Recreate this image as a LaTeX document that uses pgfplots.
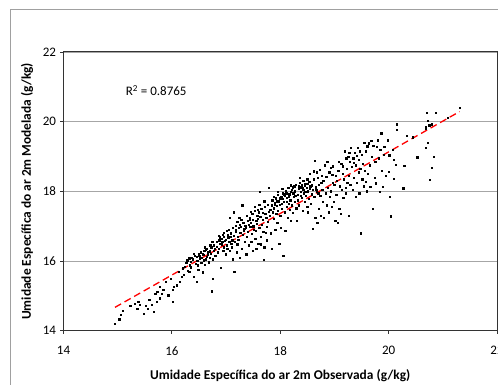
\documentclass[border=0pt]{standalone}
\usepackage{pgfplots}
\pgfplotsset{compat=1.18}
\usepackage{pgfplotstable}
\usepackage{fontspec}
\setmainfont{Carlito}
\definecolor{axgray}{HTML}{333333}
\definecolor{gridgray}{HTML}{A6A6A6}
\definecolor{framegray}{HTML}{A0A0A0}

\pgfplotstableread{
x y
14.95 14.21
15.03 14.33
15.06 14.45
15.09 14.57
15.23 14.71
15.32 14.77
15.36 14.64
15.38 14.83
15.41 14.74
15.48 14.48
15.52 14.71
15.55 14.64
15.58 14.88
15.63 14.74
15.66 14.55
15.69 15.07
15.72 14.83
15.73 15.12
15.77 15.26
15.78 14.93
15.81 15.07
15.84 15.17
15.89 15.41
15.93 15.02
15.98 15.50
16.01 15.17
16.01 14.83
16.04 15.26
16.09 15.31
16.12 15.69
16.15 15.41
16.18 15.55
16.20 15.79
16.22 15.60
16.24 15.84
16.262 15.95
16.297 15.72
16.281 16.02
16.334 15.88
16.318 15.70
16.372 16.10
16.349 15.98
16.401 15.55
16.386 16.05
16.437 15.92
16.415 16.15
16.468 16.00
16.452 15.40
16.491 16.20
16.476 15.88
16.517 16.08
16.503 16.15
16.539 15.95
16.526 16.25
16.571 15.68
16.548 16.10
16.589 16.02
16.563 16.22
16.612 15.90
16.594 16.30
16.638 16.12
16.621 16.05
16.659 16.25
16.646 16.35
16.684 15.97
16.667 16.18
16.703 16.28
16.692 16.10
16.728 16.40
16.711 16.22
16.749 16.05
16.735 15.13
16.757 15.50
16.778 16.30
16.769 16.45
16.802 16.15
16.788 16.35
16.322 16.08
16.455 16.12
16.580 16.18
16.627 16.32
16.705 16.45
16.352 15.82
16.488 15.75
16.612 16.40
16.745 16.55
16.399 16.22
16.823 16.55
16.846 16.25
16.831 16.42
16.872 16.60
16.858 16.35
16.894 16.50
16.903 15.80
16.917 16.48
16.908 16.65
16.946 16.30
16.929 16.55
16.961 16.40
16.952 16.70
16.987 16.20
16.973 16.58
17.012 16.45
16.998 16.62
17.034 16.75
17.019 16.35
17.057 16.55
17.041 16.68
17.072 16.30
17.066 17.25
17.095 16.50
17.083 16.80
17.114 16.60
17.102 16.40
17.138 16.72
17.121 16.05
17.143 17.40
17.152 15.70
17.176 16.85
17.161 16.55
17.194 16.25
17.183 16.90
17.219 16.70
17.205 16.48
17.238 16.95
17.226 16.62
17.247 16.10
17.263 16.82
17.252 17.05
17.287 16.35
17.271 16.98
17.309 16.75
17.296 17.60
17.328 16.88
17.315 17.10
17.347 16.55
17.336 16.92
17.352 17.02
16.885 16.68
16.962 16.82
17.048 16.90
17.127 16.95
17.205 17.12
17.281 17.18
17.016 16.88
16.934 16.75
17.172 17.02
17.244 17.25
17.090 16.70
16.865 16.72
17.371 16.20
17.362 16.95
17.394 17.15
17.383 16.70
17.412 17.05
17.398 16.85
17.436 17.25
17.421 16.45
17.448 16.98
17.441 17.20
17.473 16.78
17.458 17.10
17.491 16.30
17.482 17.35
17.513 16.90
17.502 17.00
17.527 17.45
17.536 16.65
17.558 17.15
17.541 16.88
17.577 17.30
17.566 17.08
17.594 16.50
17.583 17.22
17.612 16.95
17.603 17.40
17.618 17.98
17.641 16.70
17.629 17.28
17.662 17.05
17.648 17.50
17.683 16.85
17.671 17.18
17.702 16.40
17.694 16.03
17.725 17.35
17.713 17.55
17.747 16.98
17.738 17.25
17.764 17.62
17.756 16.60
17.785 17.42
17.772 17.12
17.791 18.10
17.808 17.30
17.452 17.42
17.533 17.55
17.612 17.62
17.705 17.72
17.378 17.30
17.465 16.55
17.556 16.35
17.645 16.48
17.728 16.82
17.498 17.18
17.588 17.48
17.676 17.38
17.826 16.80
17.815 17.48
17.847 17.60
17.839 16.35
17.865 17.40
17.852 17.75
17.884 17.22
17.873 17.52
17.905 16.90
17.892 17.68
17.924 17.35
17.913 17.80
17.946 17.10
17.931 17.58
17.958 17.45
17.952 17.90
17.979 16.50
17.967 17.72
17.998 17.30
17.985 17.62
18.018 17.85
18.004 16.95
18.036 17.78
18.027 17.50
18.053 16.15
18.041 17.95
18.076 17.40
18.062 17.70
18.091 16.88
18.083 17.88
18.115 17.55
18.104 18.02
18.138 17.25
18.122 17.82
18.157 17.65
18.146 18.10
18.174 17.48
18.163 17.92
18.196 17.15
18.182 17.75
18.213 18.05
18.205 17.60
18.237 17.95
18.224 17.38
18.256 18.15
18.243 17.85
18.271 17.70
18.265 18.00
18.293 17.52
18.284 18.20
17.876 17.85
17.957 17.98
18.035 18.08
18.118 17.70
18.196 17.98
18.278 17.88
17.903 17.62
17.992 17.80
18.071 17.92
18.152 17.85
18.233 18.12
17.945 17.72
18.024 17.65
18.108 17.95
18.187 18.18
18.318 17.90
18.309 17.15
18.336 18.08
18.327 17.75
18.356 18.25
18.344 17.60
18.378 17.98
18.362 18.40
18.394 17.82
18.386 18.12
18.413 17.45
18.402 18.20
18.437 17.95
18.425 18.05
18.452 17.70
18.446 18.18
18.473 17.88
18.461 18.22
18.495 17.55
18.484 18.10
18.512 18.00
18.506 17.40
18.534 18.28
18.521 17.78
18.553 18.15
18.547 18.50
18.575 17.92
18.562 17.65
18.594 18.05
18.603 16.92
18.613 18.35
18.627 17.85
18.631 18.88
18.646 17.25
18.654 18.12
18.668 18.55
18.677 17.98
18.683 17.10
18.694 18.40
18.706 18.20
18.712 17.50
18.724 18.62
18.735 17.88
18.742 17.30
18.756 18.25
18.761 18.45
18.774 18.05
18.786 17.70
18.792 18.30
18.805 17.25
18.345 18.15
18.425 18.30
18.505 18.22
18.585 18.18
18.665 18.05
18.372 17.88
18.458 17.98
18.538 18.08
18.618 18.58
18.702 17.95
18.498 18.35
18.412 18.10
18.824 18.75
18.833 17.95
18.847 18.42
18.851 17.60
18.866 18.85
18.878 18.10
18.894 17.40
18.902 18.55
18.908 17.85
18.925 18.68
18.936 18.00
18.947 17.55
18.968 18.25
18.973 18.72
18.985 17.70
18.998 18.20
19.014 17.15
19.022 18.45
19.033 17.90
19.047 18.30
19.066 17.10
19.071 18.60
19.088 17.50
19.096 18.15
19.113 17.35
19.124 18.80
19.132 18.05
19.148 18.50
19.163 17.82
19.176 18.35
19.188 19.15
19.205 18.10
19.212 17.95
19.224 18.65
19.238 18.25
19.252 19.00
19.264 17.30
19.268 18.45
19.285 18.85
19.291 18.20
19.303 19.25
19.318 18.70
19.334 18.05
19.346 18.95
19.358 18.40
19.377 19.10
19.392 17.85
19.398 18.75
19.414 18.25
19.425 19.25
19.442 18.55
19.453 18.90
19.458 17.95
19.476 18.65
19.491 16.80
19.502 19.05
19.513 18.35
19.526 18.80
19.534 18.15
19.548 19.40
19.563 18.60
19.572 19.15
19.583 18.28
19.594 18.00
19.606 19.30
19.618 18.50
19.632 19.38
19.648 18.75
19.662 18.13
19.677 19.45
19.688 19.00
19.708 17.51
19.716 19.32
19.738 18.40
19.752 18.85
19.767 18.23
19.784 19.28
19.796 19.47
19.818 18.95
19.832 17.99
19.846 19.20
19.862 19.67
19.878 18.60
19.891 18.13
19.904 19.05
19.921 19.28
19.946 18.45
19.978 19.47
19.275 19.10
19.352 18.82
19.405 19.02
19.158 18.72
19.082 18.85
19.466 19.15
19.215 18.95
18.956 18.48
20.00 18.56
20.01 19.04
20.02 17.85
20.04 17.29
20.07 19.19
20.09 18.37
20.10 18.90
20.13 18.76
20.15 19.93
20.15 19.76
20.27 18.09
20.29 18.73
20.33 19.59
20.44 19.55
20.53 18.98
20.69 19.26
20.69 19.79
20.68 19.86
20.70 20.26
20.72 20.03
20.72 19.40
20.75 19.90
20.76 18.33
20.80 19.93
20.80 18.68
20.83 19.00
20.87 20.26
21.09 20.12
21.31 20.40
}\scatterdata

\begin{document}
\begin{tikzpicture}[x=1pt,y=1pt]
\path[use as bounding box] (0,0) rectangle (498,385);
\draw[framegray, line width=1pt] (10,-10) -- (10,375) -- (510,375);
\begin{axis}[
  at={(63.5pt,54.3pt)}, anchor=south west,
  scale only axis, width=433.5pt, height=278.7pt,
  xmin=14, xmax=22, ymin=14, ymax=22,
  xtick={14,16,...,22}, ytick={14,16,...,22},
  tick align=outside, major tick length=3pt,
  xtick pos=bottom, ytick pos=left,
  ymajorgrids, grid style={gridgray, line width=0.9pt},
  axis line style={axgray, line width=1pt},
  tick style={axgray, line width=0.8pt},
  /pgf/number format/assume math mode=true,
  ticklabel style={font=\fontsize{13}{15}\selectfont},
  xticklabel style={yshift=-9pt},
  yticklabel style={xshift=-1pt},
  xlabel={Umidade Específica do ar 2m Observada (g/kg)},
  ylabel={Umidade Específica do ar 2m Modelada (g/kg)},
  label style={font=\fontsize{13.4}{15}\selectfont\bfseries},
  xlabel style={at={(axis description cs:0.5,-0.163)}, anchor=center},
  ylabel style={at={(axis description cs:-0.084,0.5)}, anchor=center},
  clip=false,
]
\addplot[only marks, mark=square*, mark size=0.65pt, black] table[x=x,y=y] {\scatterdata};
\addplot[red, line width=1.3pt, dash pattern=on 7pt off 4pt] coordinates {(14.95,14.67) (21.31,20.29)};
\node[font=\fontsize{13}{15}\selectfont] at (axis cs:15.71,20.89) {R\textsuperscript{2} = 0.8765};
\end{axis}
\end{tikzpicture}
\end{document}
